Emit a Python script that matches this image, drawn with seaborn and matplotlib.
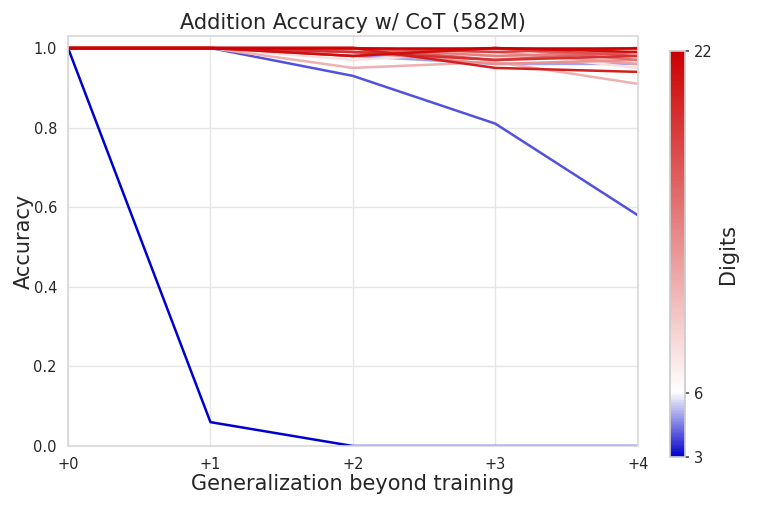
import numpy as np
import pandas as pd
import seaborn as sns
import matplotlib
matplotlib.use("Agg")
import matplotlib.pyplot as plt
from matplotlib.colors import LinearSegmentedColormap, Normalize
from matplotlib.cm import ScalarMappable

# accuracy per training-digit model, at +0..+4 digits beyond training
steps = [0, 1, 2, 3, 4]
step_labels = ["+0", "+1", "+2", "+3", "+4"]
digits = list(range(3, 23))
acc = {
    3: [1.0, 0.06, 0.0, 0.0, 0.0],
    4: [1.0, 1.0, 0.93, 0.81, 0.58],
    5: [1.0, 1.0, 0.98, 0.96, 0.96],
    6: [1.0, 1.0, 1.0, 0.99, 0.98],
    7: [1.0, 1.0, 0.99, 0.98, 0.97],
    8: [1.0, 1.0, 0.97, 0.99, 0.95],
    9: [1.0, 1.0, 1.0, 0.98, 0.97],
    10: [1.0, 1.0, 0.99, 0.97, 0.98],
    11: [1.0, 1.0, 0.95, 0.965, 0.91],
    12: [1.0, 1.0, 1.0, 0.99, 0.96],
    13: [1.0, 1.0, 0.99, 0.96, 0.97],
    14: [1.0, 1.0, 1.0, 0.98, 0.99],
    15: [1.0, 1.0, 0.99, 1.0, 0.97],
    16: [1.0, 1.0, 1.0, 0.97, 0.99],
    17: [1.0, 1.0, 0.98, 1.0, 0.98],
    18: [1.0, 1.0, 1.0, 0.99, 1.0],
    19: [1.0, 1.0, 0.99, 0.97, 0.98],
    20: [1.0, 1.0, 1.0, 0.95, 0.94],
    21: [1.0, 1.0, 0.98, 1.0, 0.99],
    22: [1.0, 1.0, 1.0, 1.0, 1.0],
}

rows = []
for d in digits:
    for s, a in zip(steps, acc[d]):
        rows.append({"step": s, "acc": a, "digits": d})
df = pd.DataFrame(rows)

sns.set_theme(style="whitegrid", rc={"grid.color": "#e6e6e6", "axes.edgecolor": "#d9d9d9"})

cmap = LinearSegmentedColormap.from_list(
    "digits", [(0.0, "#0000cc"), (0.16, "#ffffff"), (1.0, "#cc0000")])
norm = Normalize(vmin=3, vmax=22)

fig = plt.figure(figsize=(7.61, 5.08), dpi=100)
ax = fig.add_axes([0.0894, 0.122, 0.7486, 0.807])
sns.lineplot(data=df, x="step", y="acc", hue="digits", palette=cmap,
             hue_norm=norm, linewidth=1.8, legend=False, ax=ax)

ax.set_xlim(0, 4)
ax.set_ylim(0, 1.03)
ax.set_xticks(steps)
ax.set_xticklabels(step_labels)
ax.set_yticks([0, 0.2, 0.4, 0.6, 0.8, 1.0])
ax.tick_params(axis="both", labelsize=10.5, pad=2)
ax.set_xlabel("Generalization beyond training", fontsize=15, labelpad=1)
ax.set_ylabel("Accuracy", fontsize=15, labelpad=0)
ax.set_title("Addition Accuracy w/ CoT (582M)", fontsize=15, pad=5)

cax = fig.add_axes([0.880, 0.100, 0.0197, 0.799])
sm = ScalarMappable(norm=norm, cmap=cmap)
cb = fig.colorbar(sm, cax=cax, ticks=[3, 6, 22])
cb.outline.set_edgecolor("#cccccc")
cb.ax.tick_params(labelsize=10.5, length=3, color="#555555")
cb.set_label("Digits", fontsize=15)

fig.savefig("out.png", dpi=100)
